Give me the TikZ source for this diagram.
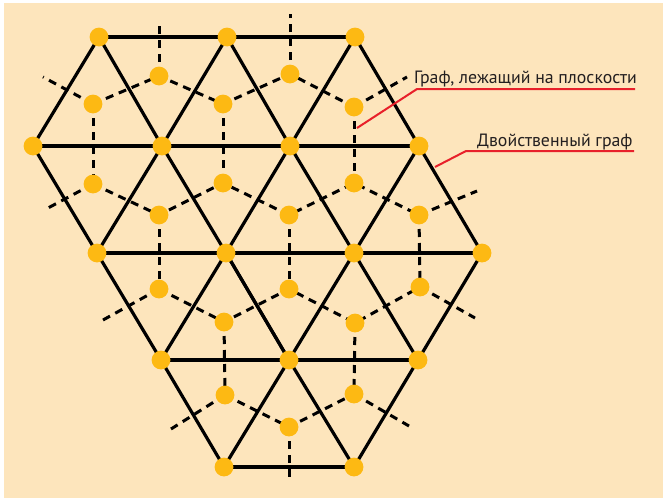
\documentclass[tikz,border=0pt]{standalone}
\usepackage{fontspec}
\setmainfont{PT Sans}
\definecolor{bgpeach}{HTML}{FDE5BC}
\definecolor{dotfill}{HTML}{FDB913}
\definecolor{lblred}{HTML}{E8202A}
\definecolor{txt}{HTML}{231F20}
\tikzset{
  vtx/.style={circle,fill=dotfill,inner sep=0pt,minimum size=18.8pt},
  primal/.style={line width=3.2pt,black},
  dual/.style={line width=3pt,black,dash pattern=on 8pt off 6pt},
  pointer/.style={line width=2pt,lblred},
  lbltext/.style={font=\fontsize{17.8}{20}\selectfont,text=txt,inner sep=0pt,anchor=base west}
}
\begin{document}
\begin{tikzpicture}[x=1pt,y=-1pt]
\useasboundingbox (0,0) rectangle (663,498);
\fill[white] (0,0) rectangle (663,498);
\fill[bgpeach] (4,3) rectangle (663,498);

% primal vertices (coordinates)
\coordinate (A0) at (99,37);
\coordinate (A1) at (227,37);
\coordinate (A2) at (355,37);
\coordinate (B0) at (33,146);
\coordinate (B1) at (162,146);
\coordinate (B2) at (290,146);
\coordinate (B3) at (419,146);
\coordinate (C0) at (97,253);
\coordinate (C1) at (226,253);
\coordinate (C2) at (354,253);
\coordinate (C3) at (482,253);
\coordinate (D0) at (161,360);
\coordinate (D1) at (289,360);
\coordinate (D2) at (418,360);
\coordinate (E0) at (224,467);
\coordinate (E1) at (354,467);

% dual vertices
\coordinate (P0) at (93,104);
\coordinate (P1) at (159,76);
\coordinate (P2) at (223,104);
\coordinate (P3) at (290,74);
\coordinate (P4) at (354,107);
\coordinate (Q0) at (93,184);
\coordinate (Q1) at (159,215);
\coordinate (Q2) at (223,183);
\coordinate (Q3) at (289,215);
\coordinate (Q4) at (354,183);
\coordinate (Q5) at (419,215);
\coordinate (R0) at (159,289);
\coordinate (R1) at (224,322);
\coordinate (R2) at (289,289);
\coordinate (R3) at (355,323);
\coordinate (R4) at (420,287);
\coordinate (S0) at (225,395);
\coordinate (S1) at (289,427);
\coordinate (S2) at (354,394);

% stub ends
\coordinate (tP0) at (43,77);
\coordinate (tP1) at (159,22);
\coordinate (tP3) at (290,14);
\coordinate (tP4) at (407,77);
\coordinate (tQ0) at (48,208);
\coordinate (tQ5) at (477,191);
\coordinate (tR0) at (103,320);
\coordinate (tR4) at (475,318);
\coordinate (tS0) at (171,429);
\coordinate (tS1) at (289,480);
\coordinate (tS2) at (409,426);

% primal edges
\draw[primal] (A0) -- (A1) -- (A2);
\draw[primal] (B0) -- (B1) -- (B2) -- (B3);
\draw[primal] (C0) -- (C1) -- (C2) -- (C3);
\draw[primal] (D0) -- (D1) -- (D2);
\draw[primal] (E0) -- (E1);
\draw[primal] (A0) -- (B0) -- (C0) -- (D0) -- (E0);
\draw[primal] (A0) -- (B1) -- (C1) -- (D1) -- (E1);
\draw[primal] (A1) -- (B1) -- (C0);
\draw[primal] (A1) -- (B2) -- (C2) -- (D2) -- (E1);
\draw[primal] (A2) -- (B2) -- (C1) -- (D0);
\draw[primal] (A2) -- (B3) -- (C3) -- (D2);
\draw[primal] (B3) -- (C2) -- (D1) -- (E0);
\draw[primal] (C1) -- (D1);

% dual edges
\draw[dual] (P0) -- (P1) -- (P2) -- (P3) -- (P4);
\draw[dual] (Q0) -- (Q1) -- (Q2) -- (Q3) -- (Q4) -- (Q5);
\draw[dual] (R0) -- (R1) -- (R2) -- (R3) -- (R4);
\draw[dual] (S0) -- (S1) -- (S2);
\draw[dual] (P0) -- (Q0);
\draw[dual] (P2) -- (Q2);
\draw[dual] (P4) -- (Q4);
\draw[dual] (Q1) -- (R0);
\draw[dual] (Q3) -- (R2);
\draw[dual] (Q5) -- (R4);
\draw[dual] (R1) -- (S0);
\draw[dual] (R3) -- (S2);
% stubs
\draw[dual] (P0) -- (tP0);
\draw[dual] (P1) -- (tP1);
\draw[dual] (P3) -- (tP3);
\draw[dual] (P4) -- (tP4);
\draw[dual] (Q0) -- (tQ0);
\draw[dual] (Q5) -- (tQ5);
\draw[dual] (R0) -- (tR0);
\draw[dual] (R4) -- (tR4);
\draw[dual] (S0) -- (tS0);
\draw[dual] (S1) -- (tS1);
\draw[dual] (S2) -- (tS2);

% dots
\foreach \v in {A0,A1,A2,B0,B1,B2,B3,C0,C1,C2,C3,D0,D1,D2,E0,E1,
                P0,P1,P2,P3,P4,Q0,Q1,Q2,Q3,Q4,Q5,R0,R1,R2,R3,R4,S0,S1,S2}
  \node[vtx] (n\v) at (\v) {};

% labels
\node[lbltext] (lab1) at (414,83) {Граф, лежащий на плоскости};
\node[lbltext] (lab2) at (477,146) {Двойственный граф};
\coordinate (p1a) at (357,128);
\coordinate (p1b) at (417,89);
\coordinate (p1c) at (635,89);
\coordinate (p2a) at (435,167);
\coordinate (p2b) at (466,151);
\coordinate (p2c) at (634,151);
\draw[pointer] (p1a) -- (p1b) -- (p1c);
\draw[pointer] (p2a) -- (p2b) -- (p2c);
\end{tikzpicture}
\end{document}
